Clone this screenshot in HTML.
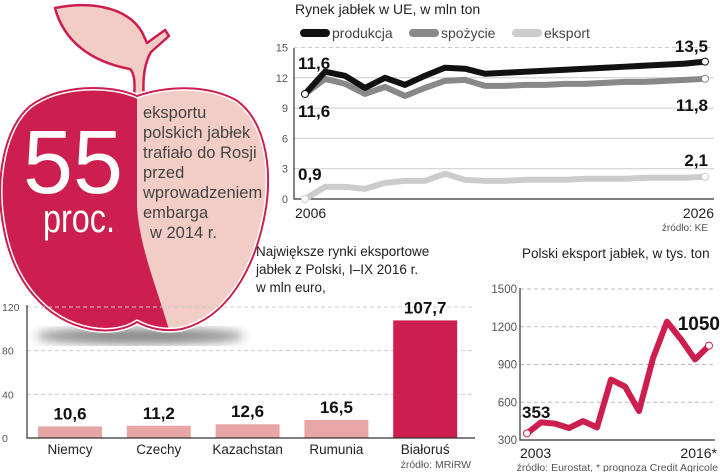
<!DOCTYPE html>
<html><head><meta charset="utf-8"><style>
html,body{margin:0;padding:0;background:#fff;}
svg{display:block;font-family:"Liberation Sans",sans-serif;}
</style></head><body>
<svg id="s" width="720" height="472" viewBox="0 0 720 472" xmlns="http://www.w3.org/2000/svg">
<defs><filter id="blur"><feGaussianBlur stdDeviation="5"/></filter>
<clipPath id="appleClip"><path id="appleShape" d="M137,96 C110,84 60,84 30,106 C4,128 -6,180 4,230 C14,282 45,320 90,329 C112,333 128,328 137,322 C150,329 166,332 182,329 C226,318 256,270 266,208 C273,160 262,118 236,100 C206,84 166,86 137,96 Z"/></clipPath></defs>

<!-- Apple -->
<g>
<ellipse cx="140" cy="336" rx="105" ry="8" fill="#555" opacity="0.7" filter="url(#blur)"/>
<path d="M55,8 C85,2 125,4 142,32 L147,43 L165,30 L169,36 L151,52 C145,62 142,78 144,98 L134,98 C135,84 135,74 130,69 C92,62 64,42 55,8 Z" fill="#f2cdc5" stroke="#cc1f4f" stroke-width="2.5" stroke-linejoin="round"/>
<use href="#appleShape" fill="#f2cdc5"/>
<g clip-path="url(#appleClip)">
<path d="M-10,80 L137,80 L137,207 C140,250 158,290 172,340 L-10,340 Z" fill="#cc1f4f"/>
</g>
<use href="#appleShape" fill="none" stroke="#fff" stroke-width="5"/>
<use href="#appleShape" fill="none" stroke="#cc1f4f" stroke-width="2"/>
<text x="23" y="193" font-size="90" fill="#fff" textLength="100" lengthAdjust="spacingAndGlyphs">55</text>
<text x="43" y="232" font-size="40" fill="#fff" textLength="72" lengthAdjust="spacingAndGlyphs">proc.</text>
<g font-size="16.5" fill="#444">
<text x="143" y="118">eksportu</text>
<text x="143" y="138">polskich jabłek</text>
<text x="143" y="158">trafiało do Rosji</text>
<text x="143" y="178">przed</text>
<text x="143" y="198">wprowadzeniem</text>
<text x="143" y="218">embarga</text>
<text x="150" y="238">w 2014 r.</text>
</g>
</g>

<g id="c1"></g>
<g id="c2"></g>
<g id="c3"></g>
</svg>
<script>
// Chart 1: EU apple market
const years1 = ["2006","2026"];
const c1Ticks = [0,3,6,9,12,15];
const production = [10.4,12.6,12.2,11.0,12.0,11.3,12.2,13.0,12.9,12.4,12.5,12.6,12.7,12.8,12.9,13.0,13.1,13.2,13.3,13.4,13.6];
const consumption = [10.4,11.9,11.4,10.4,11.1,10.2,11.0,11.7,11.8,11.2,11.2,11.3,11.3,11.4,11.4,11.5,11.6,11.6,11.7,11.8,11.9];
const exportEU = [0,1.2,1.2,1.0,1.6,1.8,1.8,2.5,1.9,1.8,1.8,1.9,1.9,1.9,2.0,2.0,2.0,2.1,2.1,2.1,2.2];
// Chart 2: Polish export
const years2 = ["2003","2016*"];
const c2Ticks = [300,600,900,1200,1500];
const plExport = [353,440,430,395,450,400,780,725,530,950,1240,1100,940,1050];
// Chart 3: bars
const countries = ["Niemcy","Czechy","Kazachstan","Rumunia","Białoruś"];
const marketValues = [10.6,11.2,12.6,16.5,107.7];
const marketLabels = ["10,6","11,2","12,6","16,5","107,7"];
const c3Ticks = [0,40,80,120];

const NS="http://www.w3.org/2000/svg";
function mk(parent,tag,attrs,txt){const e=document.createElementNS(NS,tag);for(const k in attrs)e.setAttribute(k,attrs[k]);if(txt!==undefined)e.textContent=txt;parent.appendChild(e);return e;}
const fmt=v=>String(v).replace('.',',');

// ---- chart 1
(function(){
const g=document.getElementById('c1');
const x=i=>305+i*20, y=v=>199-v*10.1;
let t=mk(g,'text',{x:295,y:14,'font-size':14,fill:'#222'},'Rynek jabłek w UE, w mln ton');


const leg=[["produkcja","#111",300],["spożycie","#888",409],["eksport","#ccc",512]];
leg.forEach(l=>{
 const r=mk(g,'rect',{x:l[2],y:29,width:30,height:8,rx:4,fill:l[1]});
 
 
 const tt=mk(g,'text',{x:l[2]+32,y:38,'font-size':14,fill:'#444'},l[0]);
 
 
});
c1Ticks.forEach(v=>{
 if(v>0){const ln=mk(g,'line',{x1:294,x2:714,y1:y(v),y2:y(v),stroke:'#ccc','stroke-width':1,'stroke-dasharray':v===15?'4,3':'none'});
 
 }
 const tl=mk(g,'text',{x:288,y:y(v)+4,'font-size':11,fill:'#555','text-anchor':'end'},String(v));
 
 
});
const ax=mk(g,'path',{d:'M294,48 L294,199 L714,199',fill:'none',stroke:'#333','stroke-width':1.2});


[[exportEU,'#ccc','series-eksport'],[consumption,'#888','series-spozycie'],[production,'#111','series-produkcja']].forEach(s=>{
 const p=mk(g,'polyline',{points:s[0].map((v,i)=>x(i)+','+y(v)).join(' '),fill:'none',stroke:s[1],'stroke-width':6,'stroke-linejoin':'round','stroke-linecap':'round'});
 
 
 const n=s[0].length-1;
 [0,n].forEach(i=>{const c=mk(g,'circle',{cx:x(i),cy:y(s[0][i]),r:3.5,fill:'#fff',stroke:s[1],'stroke-width':1});
 
 });
});
const lbls=[[298,69,'11,6','start'],[298,117,'11,6','start'],[708,52,fmt(13.5),'end'],[708,111,fmt(11.8),'end'],[298,180,fmt(0.9),'start'],[708,166,fmt(2.1),'end']];
lbls.forEach(l=>{const e=mk(g,'text',{x:l[0],y:l[1],'font-size':17,'font-weight':'bold',fill:'#111','text-anchor':l[3]},l[2]);
 
 });
const y1=mk(g,'text',{x:295,y:218,'font-size':14,fill:'#222'},years1[0]);


const y2=mk(g,'text',{x:714,y:218,'font-size':14,fill:'#222','text-anchor':'end'},years1[1]);


const src=mk(g,'text',{x:708,y:231,'font-size':10,fill:'#555','text-anchor':'end'},'źródło: KE');


})();

// ---- chart 2
(function(){
const g=document.getElementById('c2');
const x=i=>527+i*14, y=v=>440-(v-300)*151/1200;
const t=mk(g,'text',{x:522,y:258,'font-size':13.5,fill:'#222'},'Polski eksport jabłek, w tys. ton');


c2Ticks.forEach(v=>{
 if(v>300){const ln=mk(g,'line',{x1:520,x2:715,y1:y(v),y2:y(v),stroke:'#bbb','stroke-dasharray':'4,3'});
 
 }
 const tl=mk(g,'text',{x:517,y:y(v)+4,'font-size':11.5,fill:'#555','text-anchor':'end'},String(v));
 
 
});
const ax=mk(g,'path',{d:'M520,288 L520,440 L715,440',fill:'none',stroke:'#333','stroke-width':1.2});


const p=mk(g,'polyline',{points:plExport.map((v,i)=>x(i)+','+y(v)).join(' '),fill:'none',stroke:'#cc1f4f','stroke-width':6,'stroke-linejoin':'round','stroke-linecap':'round'});


const n=plExport.length-1;
[0,n].forEach(i=>{const c=mk(g,'circle',{cx:x(i),cy:y(plExport[i]),r:3.5,fill:'#fff',stroke:'#cc1f4f','stroke-width':1});
 
 });
const a=mk(g,'text',{x:522,y:418,'font-size':17,'font-weight':'bold',fill:'#111'},String(plExport[0]));


const b=mk(g,'text',{x:720,y:330,'font-size':19,'font-weight':'bold',fill:'#111','text-anchor':'end'},String(plExport[n]));


const y1=mk(g,'text',{x:520,y:458,'font-size':14,fill:'#222'},years2[0]);


const y2=mk(g,'text',{x:717,y:458,'font-size':14,fill:'#222','text-anchor':'end'},years2[1]);


const src=mk(g,'text',{x:718,y:471,'font-size':10.5,fill:'#555','text-anchor':'end'},'źródło: Eurostat, * prognoza Credit Agricole');


})();

// ---- chart 3
(function(){
const g=document.getElementById('c3');
const y=v=>438-v*131/120, x=i=>38+i*88.8;
['Największe rynki eksportowe','jabłek z Polski, I–IX 2016 r.','w mln euro,'].forEach((s,i)=>{
 const t=mk(g,'text',{x:256,y:256+i*18,'font-size':13.5,fill:'#222'},s);
 
 
});
c3Ticks.forEach(v=>{
 if(v>0){const ln=mk(g,'line',{x1:27,x2:475,y1:y(v),y2:y(v),stroke:'#ccc','stroke-dasharray':'4,3'});
 
 }
 const tl=mk(g,'text',{x:2,y:y(v)+4,'font-size':10.5,fill:'#555'},String(v));
 
 
});
countries.forEach((c,i)=>{
 const v=marketValues[i];
 const r=mk(g,'rect',{x:x(i),y:y(v),width:64,height:438-y(v),fill:i===4?'#cc1f4f':'#e8a5a5'});
 
 
 const l=mk(g,'text',{x:x(i)+32,y:y(v)-7,'font-size':17,'font-weight':'bold',fill:'#111','text-anchor':'middle'},marketLabels[i]);
 
 
 const cl=mk(g,'text',{x:x(i)+32,y:454,'font-size':13.5,fill:'#222','text-anchor':'middle'},c);
 
 
});
const ax=mk(g,'path',{d:'M27,305 L27,438 L475,438',fill:'none',stroke:'#333','stroke-width':1.2});


const src=mk(g,'text',{x:471,y:468,'font-size':10.5,fill:'#555','text-anchor':'end'},'źródło: MRiRW');


})();
</script>
</body></html>
